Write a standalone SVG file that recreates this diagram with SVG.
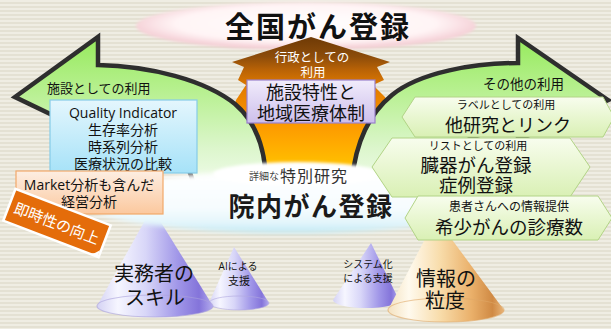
<svg xmlns="http://www.w3.org/2000/svg" width="611" height="329" viewBox="0 0 611 329">
  <defs>
    <pattern id="paper" width="8" height="4" patternUnits="userSpaceOnUse">
      <rect width="8" height="4" fill="#efede3"/>
      <rect y="2" width="8" height="2" fill="#e4e1d3"/>
    </pattern>
    <radialGradient id="gTopEllipse" cx="0.5" cy="0.45" r="0.55">
      <stop offset="0" stop-color="#ffffff"/>
      <stop offset="0.7" stop-color="#fff4f5"/>
      <stop offset="1" stop-color="#f2c6ce"/>
    </radialGradient>
    <linearGradient id="gOrange" x1="0" y1="37" x2="0" y2="200" gradientUnits="userSpaceOnUse">
      <stop offset="0" stop-color="#6e3a06"/>
      <stop offset="0.12" stop-color="#8c4c0a"/>
      <stop offset="0.2" stop-color="#b86206"/>
      <stop offset="0.3" stop-color="#e07a00"/>
      <stop offset="0.5" stop-color="#fb9400"/>
      <stop offset="0.65" stop-color="#ffaa00"/>
      <stop offset="0.8" stop-color="#ffc200"/>
      <stop offset="1" stop-color="#ffd21a"/>
    </linearGradient>
    <linearGradient id="gGreen" x1="0" y1="37" x2="0" y2="185" gradientUnits="userSpaceOnUse">
      <stop offset="0" stop-color="#96ea5c"/>
      <stop offset="0.35" stop-color="#b6f08e"/>
      <stop offset="0.75" stop-color="#dcf6cc"/>
      <stop offset="1" stop-color="#f0fbea"/>
    </linearGradient>
    <linearGradient id="gPurpleBox" x1="0" y1="0" x2="0" y2="1">
      <stop offset="0" stop-color="#f1ecfb"/>
      <stop offset="1" stop-color="#cdbfec"/>
    </linearGradient>
    <linearGradient id="gBlueBox" x1="0" y1="0" x2="0" y2="1">
      <stop offset="0" stop-color="#e4f6fd"/>
      <stop offset="1" stop-color="#a6e2f8"/>
    </linearGradient>
    <linearGradient id="gPeachBox" x1="0" y1="0" x2="0" y2="1">
      <stop offset="0" stop-color="#fdeee2"/>
      <stop offset="1" stop-color="#fbc89e"/>
    </linearGradient>
    <linearGradient id="gHex" x1="0" y1="0" x2="0" y2="1">
      <stop offset="0" stop-color="#f8fdee"/>
      <stop offset="1" stop-color="#d9f0b4"/>
    </linearGradient>
    <linearGradient id="gBase" x1="0" y1="0" x2="0" y2="1">
      <stop offset="0" stop-color="#ffffff"/>
      <stop offset="0.6" stop-color="#f6fcfe"/>
      <stop offset="0.85" stop-color="#e2f5fb"/>
      <stop offset="1" stop-color="#bde8f4"/>
    </linearGradient>
    <linearGradient id="gConeViolet" x1="0" y1="0" x2="1" y2="0">
      <stop offset="0" stop-color="#d4d2f4"/>
      <stop offset="0.18" stop-color="#f6f6ff"/>
      <stop offset="0.42" stop-color="#d8d6f8"/>
      <stop offset="0.7" stop-color="#a096e8"/>
      <stop offset="0.88" stop-color="#8474da"/>
      <stop offset="1" stop-color="#b4acee"/>
    </linearGradient>
    <linearGradient id="gConeAmber" x1="0" y1="0" x2="1" y2="0">
      <stop offset="0" stop-color="#f4e2c0"/>
      <stop offset="0.18" stop-color="#fffaee"/>
      <stop offset="0.45" stop-color="#f8dcaa"/>
      <stop offset="0.72" stop-color="#eab06a"/>
      <stop offset="0.9" stop-color="#d08a44"/>
      <stop offset="1" stop-color="#e8b478"/>
    </linearGradient>
    <filter id="soft" x="-10%" y="-30%" width="120%" height="160%">
      <feGaussianBlur stdDeviation="1.6"/>
    </filter>
    <filter id="softer" x="-10%" y="-40%" width="120%" height="180%">
      <feGaussianBlur stdDeviation="2.5"/>
    </filter>
  </defs>
  <style>
    .jp { font-family: "Noto Sans CJK JP", "Noto Sans CJK SC", sans-serif; }
    .mix { font-family: "Open Sans", "Noto Sans CJK JP", sans-serif; }
    .ink { fill: #111111; }
    .white { fill: #ffffff; }
    .arrow { fill: url(#gGreen); stroke: #2e2e2e; stroke-width: 4.5; stroke-linejoin: miter; }
    .hex { fill: url(#gHex); stroke: #b2d486; stroke-width: 1; }
    .mid { text-anchor: middle; }
  </style>

  <!-- paper background -->
  <rect width="611" height="329" fill="url(#paper)"/>

  <!-- national registry cloud -->
  <g id="national-registry">
    <ellipse cx="306" cy="26" rx="170" ry="24" fill="url(#gTopEllipse)" filter="url(#soft)"/>
    <text class="jp ink mid" x="318" y="38" font-size="29" font-weight="700" letter-spacing="2">全国がん登録</text>
  </g>

  <!-- administrative use: stepped upward arrow -->
  <g id="admin-use">
    <path d="M311,37 L390,62 L377,67 L384,80 L373,85 L385,97 L397,120 L397,200 L226,200 L230,120 L236,100 L246,85 L238,80 L244,67 L232,62 Z" fill="url(#gOrange)"/>
    <text class="jp white mid" x="312" y="62" font-size="12.5">行政としての</text>
    <text class="jp white mid" x="313" y="77" font-size="12.5">利用</text>
  </g>

  <!-- curved usage arrows -->
  <g id="connectors">
    <path id="arrow-facility" class="arrow" d="M15,97 L98,37 L98,65 C150,66 205,80 235,104 C256,122 265,150 266,180 L266,194 L196,194 C194,184 192,177 188,168 C165,136 130,122 98,120 L98,137 Z"/>
    <path id="arrow-other" class="arrow" d="M608,100 L518,38 L518,63 C475,63 420,72 392,95 C370,113 356,140 352,180 L352,194 L420,194 C425,160 460,135 518,125 L518,140 Z"/>
  </g>

  <g id="region-box">
    <rect x="247" y="80" width="128" height="43" fill="url(#gPurpleBox)" stroke="#9a80cc" stroke-width="1.2"/>
    <text class="jp ink mid" x="311" y="99" font-size="18">施設特性と</text>
    <text class="jp ink mid" x="311" y="120" font-size="18">地域医療体制</text>
  </g>

  <!-- support cones -->
  <g id="cone-ai">
    <path d="M234,247 L209,303 A30,7 0 0 0 269,303 Z" fill="url(#gConeViolet)"/>
    <ellipse cx="239" cy="303" rx="30" ry="7" fill="none" stroke="#b0a8e0" stroke-width="1" opacity="0.6"/>
    <text class="mix ink mid" x="238" y="270" font-size="10">AIによる</text>
    <text class="jp ink mid" x="239" y="285" font-size="11">支援</text>
  </g>
  <g id="cone-skill">
    <path d="M152,208 L97,306 A58,11 0 0 0 213,306 Z" fill="url(#gConeViolet)"/>
    <ellipse cx="155" cy="306" rx="58" ry="11" fill="none" stroke="#aaa2dc" stroke-width="1.2" opacity="0.6"/>
    <text class="jp ink mid" x="154" y="281" font-size="20">実務者の</text>
    <text class="jp ink mid" x="155" y="305" font-size="20">スキル</text>
  </g>
  <g id="cone-system">
    <path d="M371,243 L333,300 A33,8 0 0 0 399,300 Z" fill="url(#gConeViolet)"/>
    <text class="jp ink mid" x="368" y="268" font-size="10">システム化</text>
    <text class="jp ink mid" x="368" y="282" font-size="10">による支援</text>
  </g>
  <g id="cone-granularity">
    <path d="M436,218 L388,310 A58,12 0 0 0 504,310 Z" fill="url(#gConeAmber)"/>
    <ellipse cx="446" cy="310" rx="58" ry="12" fill="none" stroke="#e0a868" stroke-width="1.2" opacity="0.6"/>
    <text class="jp ink mid" x="446" y="286" font-size="20">情報の</text>
    <text class="jp ink mid" x="445" y="308" font-size="20">粒度</text>
  </g>

  <!-- hospital-based registry cloud -->
  <g id="hospital-registry">
    <ellipse cx="290" cy="202" rx="208" ry="31" fill="url(#gBase)" filter="url(#softer)"/>
    <ellipse cx="297" cy="174" rx="84" ry="12" fill="#ffffff" filter="url(#soft)"/>
    <text class="jp mid" x="311" y="216" font-size="26" font-weight="700" letter-spacing="1.5" fill="#1a1a1a">院内がん登録</text>
  </g>
  <g id="special-study">
    <text class="jp" x="249" y="180" font-size="10" fill="#444444">詳細な</text>
    <text class="jp" x="280" y="182" font-size="16" fill="#333333" letter-spacing="1">特別研究</text>
  </g>

  <g id="facility-use">
    <text class="jp ink" x="47" y="93" font-size="13">施設としての利用</text>
  </g>

  <g id="quality-box">
    <rect x="50" y="100" width="147" height="73" fill="url(#gBlueBox)" stroke="#86cce8" stroke-width="1.2"/>
    <text class="mix ink mid" x="123" y="118" font-size="14">Quality Indicator</text>
    <text class="jp ink mid" x="123" y="135" font-size="14">生存率分析</text>
    <text class="jp ink mid" x="123" y="152" font-size="14">時系列分析</text>
    <text class="jp ink mid" x="123" y="169" font-size="14">医療状況の比較</text>
  </g>

  <g id="market-box">
    <rect x="16" y="171" width="147" height="43" fill="url(#gPeachBox)" stroke="#f2a86a" stroke-width="1.2"/>
    <text class="mix ink mid" x="89" y="190" font-size="14">Market分析も含んだ</text>
    <text class="jp ink mid" x="89" y="207" font-size="14">経営分析</text>
  </g>

  <g id="timeliness" transform="translate(57 223) rotate(21)">
    <rect x="-51" y="-17" width="102" height="34" fill="#e46c0a" stroke="#ffffff" stroke-width="2.5"/>
    <path d="M40,17 L50,17 L50,10 Q46,16 40,17 Z" fill="#ffffff"/>
    <text class="jp white mid" x="0" y="6" font-size="15">即時性の向上</text>
  </g>

  <g id="other-use">
    <text class="jp ink" x="483" y="89" font-size="13.5">その他の利用</text>
  </g>

  <g id="link-box">
    <polygon class="hex" points="402,117 415,97 603,97 614,117 603,137 415,137"/>
    <text class="jp ink mid" x="506" y="109" font-size="11">ラベルとしての利用</text>
    <text class="jp ink mid" x="508" y="132" font-size="18">他研究とリンク</text>
  </g>

  <g id="list-box">
    <polygon class="hex" points="372,167 392,138 570,138 590,167 570,197 392,197"/>
    <text class="jp ink mid" x="478" y="150" font-size="11">リストとしての利用</text>
    <text class="jp ink mid" x="476" y="172" font-size="18.5">臓器がん登録</text>
    <text class="jp ink mid" x="476" y="192" font-size="18.5">症例登録</text>
  </g>

  <g id="patient-box">
    <polygon class="hex" points="405,218 418,196 598,196 612,218 598,240 418,240"/>
    <text class="jp ink mid" x="509" y="211" font-size="12">患者さんへの情報提供</text>
    <text class="jp ink mid" x="509" y="234" font-size="18.5">希少がんの診療数</text>
  </g>
</svg>
